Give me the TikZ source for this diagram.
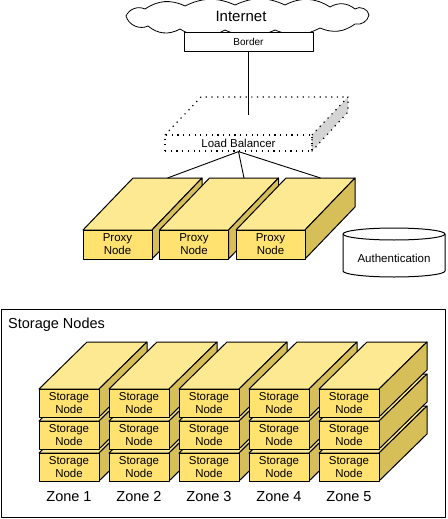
\documentclass[tikz,border=0pt]{standalone}
\usepackage{fontspec}
\setmainfont{Liberation Sans}
\definecolor{slabfront}{RGB}{255,226,112}
\definecolor{slabtop}{RGB}{253,233,145}
\definecolor{slabside}{RGB}{214,190,88}
\definecolor{lbgray}{RGB}{212,212,212}

\begin{document}
\begin{tikzpicture}[x=1pt, y=-1pt, line join=round,
        every node/.append style={font=\fontsize{11.5}{13}\selectfont, align=center, inner sep=0pt},
        frontface/.style={draw, line width=1pt, fill=slabfront, minimum width=60pt, minimum height=28pt},
        topface/.style={draw, line width=1pt, fill=slabtop},
        sideface/.style={draw, line width=1pt, fill=slabside}]
      \tikzstyle{lbline} = [dash pattern=on 1.2pt off 4.5pt, line width=1.2pt]
      \tikzstyle{wire} = [line width=0.9pt]
      \useasboundingbox (0,0) rectangle (447,519);
      \draw[line width=0.8pt, fill=white] (126,16) to[bend left=45] (145,9) to[bend left=30] (185,6)
        to[bend left=25] (235,5) to[bend left=25] (285,5) to[bend left=30] (330,7) to[bend left=35] (355,9)
        to[bend left=60] (369,15) to[bend left=45] (355,24) to[bend left=30] (320,28) to[bend left=25] (275,30)
        to[bend left=25] (225,30) to[bend left=30] (180,29) to[bend left=35] (148,26) to[bend left=50] cycle;
      \node (internet) [font=\fontsize{15}{18}\selectfont] at (241,16) {Internet};
      \node (border) [draw, fill=white, line width=1pt, minimum width=129pt, minimum height=19pt,
        font=\fontsize{10}{12}\selectfont] at (248.5,42) {Border};
      \draw[lbline, fill=lbgray] (312,135) -- (348,97) -- (348,112) -- (312,151) -- cycle;
      \draw[lbline] (165,135) -- (201,97) -- (348,97);
      \node (lb) [lbline, draw, minimum width=147pt, minimum height=16pt] at (238.5,143) {Load Balancer};
      \coordinate (lbin) at (248.5,115);
      \draw[wire] (border) -- (lbin);
      \foreach \p/\x in {1/83,2/159.5,3/236}{
        \draw[topface] (\x,230) -- ++(50,-52) -- ++(69,0) -- ++(-50,52) -- cycle;
        \draw[sideface] (\x+69,230) -- ++(50,-52) -- ++(0,29) -- ++(-50,52) -- cycle;
        \node (proxy\p) [frontface, minimum width=69pt, minimum height=29pt] at (\x+34.5,244.5) {Proxy\\Node};
        \coordinate (pin\p) at (\x+84.5,178);
      }
      \foreach \p in {1,2,3} \draw[wire] (lb.south) -- (pin\p);
      \draw[line width=1pt, fill=white] (343,234) -- (343,271) arc[start angle=180, end angle=360, x radius=51pt, y radius=6pt]
        -- (445,234) arc[start angle=0, end angle=180, x radius=51pt, y radius=6pt] -- cycle;
      \draw[line width=1pt] (343,234) arc[start angle=180, end angle=360, x radius=51pt, y radius=6pt];
      \node (auth) at (394,258) {Authentication};
      \draw[line width=1pt] (1.5,309) rectangle (445.5,517.5);
      \node (storage) [anchor=west, font=\fontsize{14.5}{17}\selectfont] at (8,325) {Storage Nodes};
      \foreach \z in {1,...,5}{
        \foreach \r in {3,2,1}{
          \pgfmathsetmacro{\x}{39+(\z-1)*70}
          \pgfmathsetmacro{\y}{389+(\r-1)*32}
          \draw[topface] (\x,\y) -- ++(48,-47) -- ++(60,0) -- ++(-48,47) -- cycle;
          \draw[sideface] (\x+60,\y) -- ++(48,-47) -- ++(0,28) -- ++(-48,47) -- cycle;
          \node (store\z\r) [frontface] at (\x+30,\y+14) {Storage\\Node};
        }
        \node (zone\z) [font=\fontsize{14.5}{17}\selectfont] at (\z*70-1,497) {Zone \z};
      }
    \end{tikzpicture}
\end{document}
